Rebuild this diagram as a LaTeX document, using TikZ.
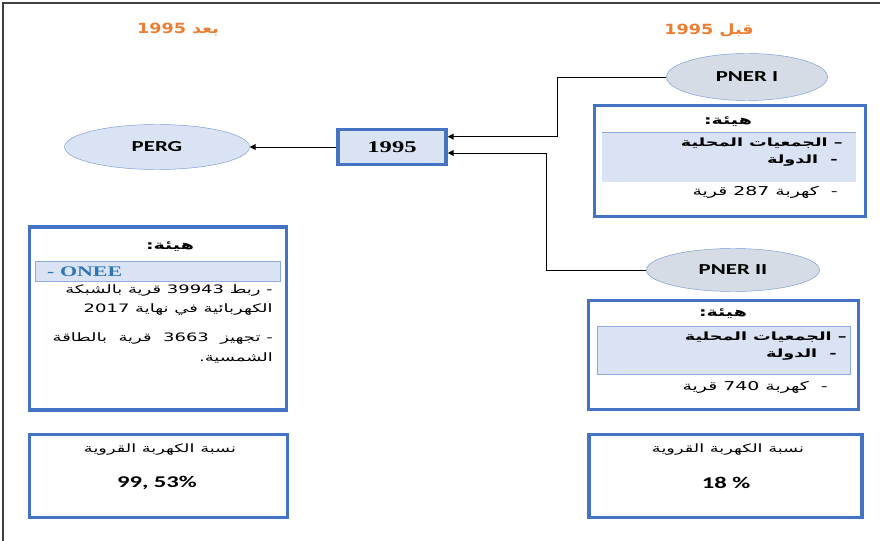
\documentclass[tikz,border=0pt]{standalone}
\usepackage{fontspec}
\setmainfont[FakeStretch=1.5]{Carlito}
\newfontfamily\timesbold[FakeStretch=1.5]{Liberation Serif}
\newfontfamily\arabicfont[Script=Arabic,FakeStretch=1.55]{DejaVu Sans}
\newfontfamily\headfont[Script=Arabic,FakeStretch=1.25]{DejaVu Sans}
\TeXXeTstate=1
\usetikzlibrary{positioning,arrows.meta,calc,shapes.geometric}
\definecolor{OfficeBlue}{RGB}{68,114,196}
\definecolor{PaleBand}{RGB}{218,227,243}
\definecolor{BandRule}{RGB}{143,170,220}
\definecolor{OvalGrey}{RGB}{214,220,229}
\definecolor{OvalEdge}{RGB}{122,156,212}
\definecolor{HeadOrange}{RGB}{237,125,49}
\definecolor{OneeBlue}{RGB}{46,117,182}
\definecolor{FrameGrey}{RGB}{64,64,64}
\newcommand{\artxt}[1]{{\arabicfont\beginR #1\endR}}

\begin{document}
\begin{tikzpicture}[x=0.03cm, y=-0.03cm,
  every node/.style={font=\fontsize{10.4}{12}\selectfont, inner sep=0pt, align=center},
  oval/.style={ellipse, draw=OvalEdge, fill=OvalGrey, font=\fontsize{13}{15}\selectfont\bfseries},
  infobox/.style={draw=OfficeBlue, line width=3pt, fill=white},
  band/.style={fill=PaleBand, draw=none},
  arbold/.style={font=\fontsize{9.7}{11}\selectfont\bfseries},
  arhead/.style={font=\fontsize{10.5}{12}\selectfont\bfseries},
  arbig/.style={font=\fontsize{9.9}{17}\selectfont, align=right, anchor=east},
  caption/.style={font=\fontsize{9.8}{11}\selectfont},
  yearhead/.style={font=\fontsize{12}{14}\selectfont\headfont\bfseries, HeadOrange},
  rate/.style={font=\fontsize{14}{16}\selectfont\bfseries},
  arrowline/.style={draw=black, line width=0.8pt, -{Triangle[length=5pt,width=5pt]}}]
  \useasboundingbox (0,0) rectangle (880,541);
  \draw[FrameGrey, line width=1pt] (3,541) -- (3,3) -- (880,3);

  \node[yearhead] (after) at (178,30) {\beginR بعد 1995\endR};
  \node[yearhead] (before) at (709,30) {\beginR قبل 1995\endR};

  \node[oval, minimum width=4.83cm, minimum height=1.41cm] (pner1) at (747,77) {PNER I};
  \node[oval, minimum width=5.19cm, minimum height=1.29cm] (pner2) at (733,270) {PNER II};
  \node[oval, fill=PaleBand, minimum width=5.55cm, minimum height=1.35cm] (perg) at (157,147) {PERG};
  \node[infobox, fill=PaleBand, minimum width=3.24cm, minimum height=1.05cm,
        font=\fontsize{14}{16}\selectfont\timesbold\bfseries] (yr1995) at (392,147) {1995};

  \node[infobox, minimum width=8.12cm, minimum height=3.32cm] (boxA) at (730,161) {};
  \node[band, minimum width=7.62cm, minimum height=1.47cm] (bandA) at (729,157.5) {};
  \draw[BandRule, line width=0.6pt] (bandA.north west) -- (bandA.north east);
  \node[arhead] (headA) at (728,122) {\artxt{هيئة:}};
  \node[arbold, anchor=east] (partA1) at (843,143) {\artxt{– الجمعيات المحلية}};
  \node[arbold, anchor=east] (partA2) at (838,161) {\artxt{-\ \ الدولة}};
  \node[anchor=east] (villA) at (838,192) {\artxt{-\ \ كهربة 287 قرية}};

  \node[infobox, minimum width=8.09cm, minimum height=3.26cm] (boxC) at (723.5,355) {};
  \node[band, draw=BandRule, line width=0.6pt, minimum width=7.59cm,
        minimum height=1.44cm] (bandC) at (723.5,350) {};
  \node[arhead] (headC) at (723,314) {\artxt{هيئة:}};
  \node[arbold, anchor=east] (partC1) at (847,337) {\artxt{– الجمعيات المحلية}};
  \node[arbold, anchor=east] (partC2) at (837,355) {\artxt{-\ \ الدولة}};
  \node[anchor=east] (villC) at (828,387) {\artxt{-\ \ كهربة 740 قرية}};

  \node[infobox, minimum width=7.7cm, minimum height=5.5cm] (boxB) at (158,318.5) {};
  \node[band, draw=BandRule, line width=0.6pt, minimum width=7.35cm,
        minimum height=0.6cm] (bandB) at (157.5,271) {};
  \node[arhead] (headB) at (170,247) {\artxt{هيئة:}};
  \node[anchor=west, font=\fontsize{12.5}{14}\selectfont\timesbold\bfseries, OneeBlue] (onee) at (47,272) {- ONEE};
  \node[arbig] (linkB) at (273,300) {\artxt{- ربط 39943 قرية بالشبكة}\\\artxt{الكهربائية في نهاية 2017}};
  \node[arbig] (solarB) at (273,347.5) {\artxt{-\ تجهيز\ \ 3663\ \ قرية\ \ بالطاقة}\\\artxt{الشمسية.}};

  \node[infobox, minimum width=7.73cm, minimum height=2.48cm] (rateB) at (158.5,476) {};
  \node[caption] (rateBtxt) at (160,450) {\artxt{نسبة الكهربة القروية}};
  \node[rate] (rateBval) at (157,483) {99, 53\%};

  \node[infobox, minimum width=8.2cm, minimum height=2.48cm] (rateA) at (725.5,476) {};
  \node[caption] (rateAtxt) at (728,450) {\artxt{نسبة الكهربة القروية}};
  \node[rate] (rateAval) at (726,483) {18 \%};

  \draw[arrowline] (pner1.west) -- ++(-109,0) |- ([yshift=0.31cm]yr1995.east);
  \draw[arrowline] (pner2.west) -- ++(-100,0) |- ([yshift=-0.18cm]yr1995.east);
  \draw[arrowline] (yr1995.west) -- (perg.east);
\end{tikzpicture}
\end{document}
